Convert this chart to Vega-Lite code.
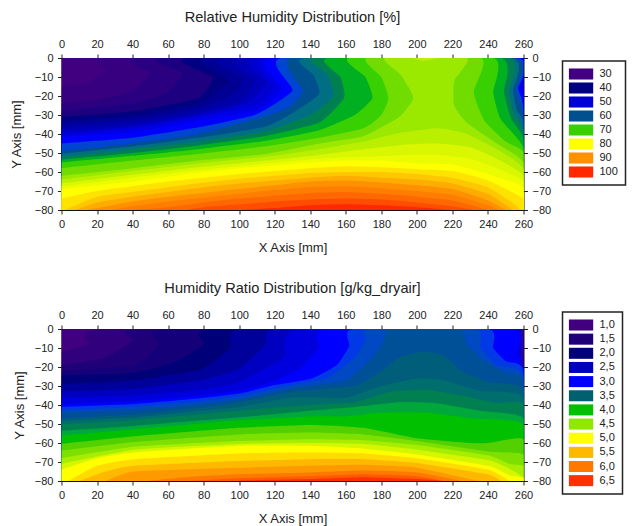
{"$schema":"https://vega.github.io/schema/vega-lite/v6.json","background":"white","padding":{"left":10.5,"top":9,"right":0,"bottom":0},"spacing":25,"align":"none","resolve":{"scale":{"fill":"independent"},"legend":{"fill":"independent"}},"config":{"view":{"stroke":null},"font":"Liberation Sans","axis":{"labelFont":"Liberation Sans","titleFont":"Liberation Sans","labelFontSize":11,"titleFontSize":13,"titleFontWeight":"normal","labelColor":"#222","titleColor":"#222","tickColor":"#222","domainColor":"#111","tickSize":4,"labelPadding":4.5,"grid":false,"labelAngle":0,"labelOverlap":false,"labelFlush":false},"title":{"font":"Liberation Sans","fontSize":14.6,"fontWeight":"normal","color":"#222"},"legend":{"labelFont":"Liberation Sans","labelFontSize":11,"labelColor":"#222","strokeWidth":1.5}},"vconcat":[{"title":{"text":"Relative Humidity Distribution [%]","offset":14,"anchor":"middle"},"width":462,"height":152,"layer":[{"data":{"values":[
{"l":30,"x":0,"y":-80},{"l":30,"x":0,"y":0},{"l":30,"x":260,"y":0},{"l":30,"x":260,"y":-80},
{"l":32.5,"x":0,"y":-15},{"l":32.5,"x":15,"y":-13},{"l":32.5,"x":25,"y":-6},{"l":32.5,"x":30,"y":0},{"l":32.5,"x":260,"y":0},{"l":32.5,"x":260,"y":-80},{"l":32.5,"x":0,"y":-80},
{"l":35,"x":0,"y":-24},{"l":35,"x":20,"y":-22},{"l":35,"x":38,"y":-18},{"l":35,"x":50,"y":-8},{"l":35,"x":45,"y":0},{"l":35,"x":260,"y":0},{"l":35,"x":260,"y":-80},{"l":35,"x":0,"y":-80},
{"l":37.5,"x":0,"y":-28},{"l":37.5,"x":40,"y":-24},{"l":37.5,"x":60,"y":-18},{"l":37.5,"x":68,"y":-8},{"l":37.5,"x":58,"y":0},{"l":37.5,"x":260,"y":0},{"l":37.5,"x":260,"y":-80},{"l":37.5,"x":0,"y":-80},
{"l":40,"x":0,"y":-31},{"l":40,"x":40,"y":-28},{"l":40,"x":77,"y":-21},{"l":40,"x":85,"y":-10},{"l":40,"x":72,"y":0},{"l":40,"x":260,"y":0},{"l":40,"x":260,"y":-80},{"l":40,"x":0,"y":-80},
{"l":42.5,"x":0,"y":-33},{"l":42.5,"x":40,"y":-30.5},{"l":42.5,"x":77,"y":-24},{"l":42.5,"x":94,"y":-12},{"l":42.5,"x":83,"y":0},{"l":42.5,"x":260,"y":0},{"l":42.5,"x":260,"y":-80},{"l":42.5,"x":0,"y":-80},
{"l":45,"x":0,"y":-35},{"l":45,"x":40,"y":-32.5},{"l":45,"x":77,"y":-26.5},{"l":45,"x":95,"y":-20},{"l":45,"x":102,"y":-11},{"l":45,"x":92,"y":0},{"l":45,"x":260,"y":0},{"l":45,"x":260,"y":-80},{"l":45,"x":0,"y":-80},
{"l":47.5,"x":0,"y":-37},{"l":47.5,"x":40,"y":-34.5},{"l":47.5,"x":77,"y":-28.5},{"l":47.5,"x":100,"y":-23},{"l":47.5,"x":109,"y":-12},{"l":47.5,"x":102,"y":0},{"l":47.5,"x":260,"y":0},{"l":47.5,"x":260,"y":-80},{"l":47.5,"x":0,"y":-80},
{"l":50,"x":0,"y":-39},{"l":50,"x":40,"y":-36},{"l":50,"x":77,"y":-30},{"l":50,"x":105,"y":-23},{"l":50,"x":115,"y":-13},{"l":50,"x":110,"y":0},{"l":50,"x":260,"y":0},{"l":50,"x":260,"y":-80},{"l":50,"x":0,"y":-80},
{"l":52.5,"x":0,"y":-40.5},{"l":52.5,"x":40,"y":-37},{"l":52.5,"x":77,"y":-31},{"l":52.5,"x":110,"y":-24.5},{"l":52.5,"x":120,"y":-15},{"l":52.5,"x":115,"y":0},{"l":52.5,"x":258,"y":0},{"l":52.5,"x":260,"y":-10},{"l":52.5,"x":260,"y":-80},{"l":52.5,"x":0,"y":-80},
{"l":55,"x":0,"y":-41.5},{"l":55,"x":40,"y":-39},{"l":55,"x":77,"y":-33},{"l":55,"x":110,"y":-27.5},{"l":55,"x":124,"y":-16},{"l":55,"x":118,"y":0},{"l":55,"x":257,"y":0},{"l":55,"x":258,"y":-15},{"l":55,"x":260,"y":-24},{"l":55,"x":260,"y":-80},{"l":55,"x":0,"y":-80},
{"l":57.5,"x":0,"y":-45},{"l":57.5,"x":40,"y":-42},{"l":57.5,"x":77,"y":-36.5},{"l":57.5,"x":110,"y":-29.5},{"l":57.5,"x":130,"y":-17},{"l":57.5,"x":124,"y":0},{"l":57.5,"x":256,"y":0},{"l":57.5,"x":257,"y":-16},{"l":57.5,"x":260,"y":-27},{"l":57.5,"x":260,"y":-80},{"l":57.5,"x":0,"y":-80},
{"l":60,"x":0,"y":-49},{"l":60,"x":40,"y":-45},{"l":60,"x":77,"y":-40},{"l":60,"x":110,"y":-32},{"l":60,"x":128,"y":-26},{"l":60,"x":136,"y":-17},{"l":60,"x":130,"y":0},{"l":60,"x":255,"y":0},{"l":60,"x":256,"y":-17},{"l":60,"x":260,"y":-31},{"l":60,"x":260,"y":-80},{"l":60,"x":0,"y":-80},
{"l":62.5,"x":0,"y":-50.5},{"l":62.5,"x":40,"y":-46.5},{"l":62.5,"x":77,"y":-42},{"l":62.5,"x":115,"y":-36},{"l":62.5,"x":130,"y":-29},{"l":62.5,"x":145,"y":-19},{"l":62.5,"x":142,"y":-9},{"l":62.5,"x":137,"y":0},{"l":62.5,"x":253,"y":0},{"l":62.5,"x":254,"y":-17},{"l":62.5,"x":256,"y":-27},{"l":62.5,"x":260,"y":-35},{"l":62.5,"x":260,"y":-80},{"l":62.5,"x":0,"y":-80},
{"l":65,"x":0,"y":-52},{"l":65,"x":40,"y":-48},{"l":65,"x":77,"y":-44},{"l":65,"x":115,"y":-38.5},{"l":65,"x":140,"y":-30},{"l":65,"x":153,"y":-20},{"l":65,"x":150,"y":-9},{"l":65,"x":143,"y":0},{"l":65,"x":251,"y":0},{"l":65,"x":252,"y":-18},{"l":65,"x":255,"y":-30},{"l":65,"x":260,"y":-39},{"l":65,"x":260,"y":-80},{"l":65,"x":0,"y":-80},
{"l":67.5,"x":0,"y":-53.5},{"l":67.5,"x":40,"y":-50},{"l":67.5,"x":77,"y":-46},{"l":67.5,"x":115,"y":-41},{"l":67.5,"x":145,"y":-34},{"l":67.5,"x":159,"y":-21},{"l":67.5,"x":157,"y":-10},{"l":67.5,"x":150,"y":0},{"l":67.5,"x":247,"y":0},{"l":67.5,"x":249,"y":-18},{"l":67.5,"x":253,"y":-32},{"l":67.5,"x":260,"y":-43},{"l":67.5,"x":260,"y":-80},{"l":67.5,"x":0,"y":-80},
{"l":70,"x":0,"y":-55},{"l":70,"x":40,"y":-51.5},{"l":70,"x":77,"y":-48},{"l":70,"x":115,"y":-43.5},{"l":70,"x":145,"y":-38},{"l":70,"x":165,"y":-30},{"l":70,"x":175,"y":-21},{"l":70,"x":171,"y":-10},{"l":70,"x":162,"y":0},{"l":70,"x":243,"y":0},{"l":70,"x":243,"y":-18},{"l":70,"x":247,"y":-32},{"l":70,"x":260,"y":-47.5},{"l":70,"x":260,"y":-80},{"l":70,"x":0,"y":-80},
{"l":72.5,"x":0,"y":-58},{"l":72.5,"x":40,"y":-54},{"l":72.5,"x":77,"y":-50.5},{"l":72.5,"x":115,"y":-46.5},{"l":72.5,"x":145,"y":-42},{"l":72.5,"x":170,"y":-37},{"l":72.5,"x":180,"y":-30},{"l":72.5,"x":184,"y":-21},{"l":72.5,"x":180,"y":-10},{"l":72.5,"x":172,"y":0},{"l":72.5,"x":236,"y":0},{"l":72.5,"x":232,"y":-18},{"l":72.5,"x":238,"y":-33},{"l":72.5,"x":250,"y":-44},{"l":72.5,"x":260,"y":-50},{"l":72.5,"x":260,"y":-80},{"l":72.5,"x":0,"y":-80},
{"l":75,"x":0,"y":-62},{"l":75,"x":40,"y":-58},{"l":75,"x":77,"y":-54},{"l":75,"x":115,"y":-50.5},{"l":75,"x":145,"y":-45},{"l":75,"x":170,"y":-41},{"l":75,"x":190,"y":-31},{"l":75,"x":198,"y":-21},{"l":75,"x":191,"y":-9},{"l":75,"x":182,"y":0},{"l":75,"x":228,"y":0},{"l":75,"x":221,"y":-12},{"l":75,"x":221,"y":-25},{"l":75,"x":228,"y":-34},{"l":75,"x":245,"y":-45},{"l":75,"x":260,"y":-55},{"l":75,"x":260,"y":-80},{"l":75,"x":0,"y":-80},
{"l":76.6,"x":198,"y":0},{"l":76.6,"x":204,"y":-1.5},{"l":76.6,"x":212,"y":0},
{"l":76.5,"x":0,"y":-64},{"l":76.5,"x":40,"y":-59.5},{"l":76.5,"x":77,"y":-55.5},{"l":76.5,"x":115,"y":-52},{"l":76.5,"x":145,"y":-48},{"l":76.5,"x":170,"y":-44},{"l":76.5,"x":190,"y":-39.5},{"l":76.5,"x":212,"y":-37},{"l":76.5,"x":228,"y":-40},{"l":76.5,"x":245,"y":-48},{"l":76.5,"x":260,"y":-58},{"l":76.5,"x":260,"y":-80},{"l":76.5,"x":0,"y":-80},
{"l":78,"x":0,"y":-66},{"l":78,"x":40,"y":-61.5},{"l":78,"x":77,"y":-57.5},{"l":78,"x":115,"y":-54},{"l":78,"x":145,"y":-51},{"l":78,"x":170,"y":-48},{"l":78,"x":195,"y":-45.5},{"l":78,"x":212,"y":-45},{"l":78,"x":230,"y":-47},{"l":78,"x":245,"y":-53},{"l":78,"x":260,"y":-62},{"l":78,"x":260,"y":-80},{"l":78,"x":0,"y":-80},
{"l":79,"x":0,"y":-67.5},{"l":79,"x":40,"y":-63},{"l":79,"x":77,"y":-59},{"l":79,"x":115,"y":-55.5},{"l":79,"x":145,"y":-53},{"l":79,"x":170,"y":-52},{"l":79,"x":195,"y":-51},{"l":79,"x":212,"y":-51},{"l":79,"x":230,"y":-53},{"l":79,"x":245,"y":-58},{"l":79,"x":260,"y":-65},{"l":79,"x":260,"y":-80},{"l":79,"x":0,"y":-80},
{"l":80,"x":0,"y":-69},{"l":80,"x":20,"y":-67},{"l":80,"x":40,"y":-65},{"l":80,"x":60,"y":-62.5},{"l":80,"x":80,"y":-60},{"l":80,"x":100,"y":-58},{"l":80,"x":120,"y":-56.5},{"l":80,"x":140,"y":-55},{"l":80,"x":160,"y":-54},{"l":80,"x":180,"y":-54},{"l":80,"x":200,"y":-55.5},{"l":80,"x":220,"y":-56},{"l":80,"x":240,"y":-61},{"l":80,"x":260,"y":-68},{"l":80,"x":260,"y":-80},{"l":80,"x":0,"y":-80},
{"l":82.5,"x":0,"y":-74},{"l":82.5,"x":20,"y":-70},{"l":82.5,"x":40,"y":-67.5},{"l":82.5,"x":60,"y":-65},{"l":82.5,"x":80,"y":-63},{"l":82.5,"x":100,"y":-61},{"l":82.5,"x":120,"y":-59.5},{"l":82.5,"x":140,"y":-58},{"l":82.5,"x":160,"y":-57},{"l":82.5,"x":180,"y":-57.5},{"l":82.5,"x":200,"y":-58.5},{"l":82.5,"x":220,"y":-59.5},{"l":82.5,"x":240,"y":-64.5},{"l":82.5,"x":260,"y":-74},{"l":82.5,"x":260,"y":-80},{"l":82.5,"x":0,"y":-80},
{"l":85,"x":2,"y":-80},{"l":85,"x":20,"y":-73},{"l":85,"x":40,"y":-70.5},{"l":85,"x":60,"y":-68},{"l":85,"x":80,"y":-65.5},{"l":85,"x":100,"y":-63.5},{"l":85,"x":120,"y":-62},{"l":85,"x":140,"y":-60.5},{"l":85,"x":160,"y":-60},{"l":85,"x":180,"y":-60},{"l":85,"x":200,"y":-61},{"l":85,"x":220,"y":-63},{"l":85,"x":240,"y":-68},{"l":85,"x":255,"y":-77},{"l":85,"x":258,"y":-80},
{"l":87.5,"x":8,"y":-80},{"l":87.5,"x":20,"y":-76},{"l":87.5,"x":40,"y":-73},{"l":87.5,"x":60,"y":-70.5},{"l":87.5,"x":80,"y":-68},{"l":87.5,"x":100,"y":-66},{"l":87.5,"x":120,"y":-64.5},{"l":87.5,"x":140,"y":-63},{"l":87.5,"x":160,"y":-62},{"l":87.5,"x":180,"y":-63},{"l":87.5,"x":200,"y":-64},{"l":87.5,"x":220,"y":-66},{"l":87.5,"x":240,"y":-71.5},{"l":87.5,"x":254,"y":-80},
{"l":90,"x":15,"y":-80},{"l":90,"x":20,"y":-79},{"l":90,"x":40,"y":-75.5},{"l":90,"x":60,"y":-73},{"l":90,"x":80,"y":-71},{"l":90,"x":100,"y":-69},{"l":90,"x":120,"y":-67},{"l":90,"x":140,"y":-65},{"l":90,"x":160,"y":-64.5},{"l":90,"x":180,"y":-65.5},{"l":90,"x":200,"y":-67},{"l":90,"x":220,"y":-69},{"l":90,"x":240,"y":-75},{"l":90,"x":250,"y":-80},
{"l":92.5,"x":28,"y":-80},{"l":92.5,"x":40,"y":-78},{"l":92.5,"x":60,"y":-75.5},{"l":92.5,"x":80,"y":-73.5},{"l":92.5,"x":100,"y":-71.5},{"l":92.5,"x":120,"y":-69.5},{"l":92.5,"x":140,"y":-68},{"l":92.5,"x":160,"y":-67.5},{"l":92.5,"x":180,"y":-68.5},{"l":92.5,"x":200,"y":-70},{"l":92.5,"x":220,"y":-72},{"l":92.5,"x":240,"y":-77.5},{"l":92.5,"x":246,"y":-80},
{"l":95,"x":40,"y":-80},{"l":95,"x":60,"y":-78.5},{"l":95,"x":80,"y":-76},{"l":95,"x":100,"y":-74},{"l":95,"x":120,"y":-72.5},{"l":95,"x":140,"y":-71},{"l":95,"x":160,"y":-70.5},{"l":95,"x":180,"y":-71.5},{"l":95,"x":200,"y":-73},{"l":95,"x":220,"y":-75},{"l":95,"x":240,"y":-80},
{"l":97.5,"x":70,"y":-80},{"l":97.5,"x":80,"y":-78.5},{"l":97.5,"x":100,"y":-77},{"l":97.5,"x":120,"y":-75.5},{"l":97.5,"x":140,"y":-74.5},{"l":97.5,"x":160,"y":-74},{"l":97.5,"x":180,"y":-74.5},{"l":97.5,"x":200,"y":-76},{"l":97.5,"x":220,"y":-78},{"l":97.5,"x":232,"y":-80},
{"l":100,"x":100,"y":-80},{"l":100,"x":120,"y":-79},{"l":100,"x":140,"y":-77.5},{"l":100,"x":160,"y":-77},{"l":100,"x":180,"y":-77.5},{"l":100,"x":200,"y":-78.5},{"l":100,"x":220,"y":-80}
]},"mark":{"type":"line","filled":true,"clip":true,"strokeWidth":0,"interpolate":"cardinal","tension":0.5},"encoding":{"x":{"field":"x","type":"quantitative","scale":{"domain":[0,260],"nice":false},"axis":{"orient":"bottom","values":[0,20,40,60,80,100,120,140,160,180,200,220,240,260],"title":"X Axis [mm]","titlePadding":12}},"y":{"field":"y","type":"quantitative","scale":{"domain":[-80,0],"nice":false},"axis":{"orient":"left","values":[0,-10,-20,-30,-40,-50,-60,-70,-80],"title":"Y Axis [mm]","titlePadding":10.5}},"detail":{"field":"l"},"order":{"value":null},"fill":{"field":"l","type":"quantitative","scale":{"domain":[30,40,50,55,60,65,67.5,70,75,80,90,100],"range":["#400080","#000080","#0000d0","#0000ff","#005090","#008050","#00b020","#38d000","#9be800","#ffff00","#ff9000","#ff2800"]},"legend":{"type":"symbol","title":null,"orient":"none","legendX":501,"legendY":3,"values":[30,40,50,60,70,80,90,100],"symbolType":"M-1.1,-0.92H2.95V0.92H-1.1Z","symbolSize":144,"symbolStrokeWidth":0,"symbolOpacity":1,"labelOffset":18,"rowPadding":2,"padding":7,"strokeColor":"#222","fillColor":"white"}}}},{"data":{"values":[{"x":0,"y":-80},{"x":260,"y":0}]},"mark":{"type":"line","opacity":0},"encoding":{"x":{"field":"x","type":"quantitative","axis":{"orient":"top","values":[0,20,40,60,80,100,120,140,160,180,200,220,240,260],"title":null}},"y":{"field":"y","type":"quantitative","axis":{"orient":"right","values":[0,-10,-20,-30,-40,-50,-60,-70,-80],"title":null}}}}],"resolve":{"axis":{"x":"independent","y":"independent"}}},{"title":{"text":"Humidity Ratio Distribution [g/kg_dryair]","offset":14,"anchor":"middle"},"width":462,"height":152,"layer":[{"data":{"values":[
{"l":1,"x":0,"y":-80},{"l":1,"x":0,"y":0},{"l":1,"x":260,"y":0},{"l":1,"x":260,"y":-80},
{"l":1.25,"x":0,"y":-12},{"l":1.25,"x":15,"y":-8},{"l":1.25,"x":25,"y":0},{"l":1.25,"x":260,"y":0},{"l":1.25,"x":260,"y":-80},{"l":1.25,"x":0,"y":-80},
{"l":1.5,"x":0,"y":-19},{"l":1.5,"x":25,"y":-15},{"l":1.5,"x":40,"y":-6},{"l":1.5,"x":45,"y":0},{"l":1.5,"x":260,"y":0},{"l":1.5,"x":260,"y":-80},{"l":1.5,"x":0,"y":-80},
{"l":1.75,"x":0,"y":-22},{"l":1.75,"x":41,"y":-19},{"l":1.75,"x":55,"y":-8},{"l":1.75,"x":60,"y":0},{"l":1.75,"x":260,"y":0},{"l":1.75,"x":260,"y":-80},{"l":1.75,"x":0,"y":-80},
{"l":2,"x":0,"y":-24.5},{"l":2,"x":41,"y":-23},{"l":2,"x":65,"y":-17},{"l":2,"x":80,"y":-8},{"l":2,"x":85,"y":0},{"l":2,"x":260,"y":0},{"l":2,"x":260,"y":-80},{"l":2,"x":0,"y":-80},
{"l":2.25,"x":0,"y":-29},{"l":2.25,"x":41,"y":-27},{"l":2.25,"x":78,"y":-21.5},{"l":2.25,"x":95,"y":-10},{"l":2.25,"x":103,"y":0},{"l":2.25,"x":260,"y":0},{"l":2.25,"x":260,"y":-80},{"l":2.25,"x":0,"y":-80},
{"l":2.5,"x":0,"y":-33},{"l":2.5,"x":41,"y":-31.5},{"l":2.5,"x":78,"y":-27},{"l":2.5,"x":100,"y":-21},{"l":2.5,"x":115,"y":-8},{"l":2.5,"x":122,"y":0},{"l":2.5,"x":260,"y":0},{"l":2.5,"x":260,"y":-80},{"l":2.5,"x":0,"y":-80},
{"l":2.75,"x":0,"y":-36},{"l":2.75,"x":41,"y":-35},{"l":2.75,"x":78,"y":-32},{"l":2.75,"x":100,"y":-28},{"l":2.75,"x":125,"y":-15},{"l":2.75,"x":133,"y":0},{"l":2.75,"x":260,"y":0},{"l":2.75,"x":260,"y":-80},{"l":2.75,"x":0,"y":-80},
{"l":3,"x":0,"y":-39.5},{"l":3,"x":41,"y":-38},{"l":3,"x":78,"y":-35},{"l":3,"x":100,"y":-32.5},{"l":3,"x":120,"y":-27.5},{"l":3,"x":135,"y":-20},{"l":3,"x":145,"y":-10},{"l":3,"x":148,"y":0},{"l":3,"x":254,"y":0},{"l":3,"x":256,"y":-14},{"l":3,"x":260,"y":-20},{"l":3,"x":260,"y":-80},{"l":3,"x":0,"y":-80},
{"l":3.1,"x":0,"y":-41},{"l":3.1,"x":41,"y":-39.5},{"l":3.1,"x":78,"y":-36.5},{"l":3.1,"x":100,"y":-34},{"l":3.1,"x":120,"y":-29.5},{"l":3.1,"x":141,"y":-26},{"l":3.1,"x":155,"y":-19},{"l":3.1,"x":162,"y":-9},{"l":3.1,"x":164,"y":0},{"l":3.1,"x":240,"y":0},{"l":3.1,"x":243,"y":-10},{"l":3.1,"x":250,"y":-17},{"l":3.1,"x":260,"y":-22},{"l":3.1,"x":260,"y":-80},{"l":3.1,"x":0,"y":-80},
{"l":3.2,"x":0,"y":-42.5},{"l":3.2,"x":41,"y":-41},{"l":3.2,"x":78,"y":-38},{"l":3.2,"x":100,"y":-35.5},{"l":3.2,"x":130,"y":-29.5},{"l":3.2,"x":150,"y":-25.5},{"l":3.2,"x":165,"y":-15},{"l":3.2,"x":171,"y":-6},{"l":3.2,"x":173,"y":0},{"l":3.2,"x":233,"y":0},{"l":3.2,"x":236,"y":-10},{"l":3.2,"x":245,"y":-19},{"l":3.2,"x":260,"y":-24.5},{"l":3.2,"x":260,"y":-80},{"l":3.2,"x":0,"y":-80},
{"l":3.3,"x":0,"y":-44},{"l":3.3,"x":41,"y":-42.5},{"l":3.3,"x":78,"y":-39.5},{"l":3.3,"x":100,"y":-37},{"l":3.3,"x":130,"y":-31},{"l":3.3,"x":160,"y":-27},{"l":3.3,"x":175,"y":-15},{"l":3.3,"x":181,"y":-7},{"l":3.3,"x":185,"y":0},{"l":3.3,"x":224,"y":0},{"l":3.3,"x":228,"y":-8},{"l":3.3,"x":238,"y":-17},{"l":3.3,"x":250,"y":-23},{"l":3.3,"x":260,"y":-27},{"l":3.3,"x":260,"y":-80},{"l":3.3,"x":0,"y":-80},
{"l":3.45,"x":0,"y":-47},{"l":3.45,"x":41,"y":-45},{"l":3.45,"x":78,"y":-41.5},{"l":3.45,"x":100,"y":-38.5},{"l":3.45,"x":130,"y":-33},{"l":3.45,"x":165,"y":-30},{"l":3.45,"x":180,"y":-22},{"l":3.45,"x":190,"y":-15},{"l":3.45,"x":203,"y":-12},{"l":3.45,"x":215,"y":-14},{"l":3.45,"x":225,"y":-22},{"l":3.45,"x":240,"y":-28},{"l":3.45,"x":260,"y":-32},{"l":3.45,"x":260,"y":-80},{"l":3.45,"x":0,"y":-80},
{"l":3.6,"x":0,"y":-48.5},{"l":3.6,"x":41,"y":-46.5},{"l":3.6,"x":78,"y":-43},{"l":3.6,"x":100,"y":-41},{"l":3.6,"x":130,"y":-36},{"l":3.6,"x":160,"y":-36},{"l":3.6,"x":180,"y":-30},{"l":3.6,"x":200,"y":-26},{"l":3.6,"x":215,"y":-27},{"l":3.6,"x":235,"y":-32.5},{"l":3.6,"x":260,"y":-36},{"l":3.6,"x":260,"y":-80},{"l":3.6,"x":0,"y":-80},
{"l":3.75,"x":0,"y":-50},{"l":3.75,"x":41,"y":-48},{"l":3.75,"x":100,"y":-43},{"l":3.75,"x":140,"y":-40},{"l":3.75,"x":165,"y":-38.5},{"l":3.75,"x":185,"y":-33},{"l":3.75,"x":205,"y":-32},{"l":3.75,"x":225,"y":-35},{"l":3.75,"x":245,"y":-39},{"l":3.75,"x":260,"y":-40},{"l":3.75,"x":260,"y":-80},{"l":3.75,"x":0,"y":-80},
{"l":3.9,"x":0,"y":-53.5},{"l":3.9,"x":41,"y":-51},{"l":3.9,"x":100,"y":-46.5},{"l":3.9,"x":140,"y":-43},{"l":3.9,"x":165,"y":-41},{"l":3.9,"x":190,"y":-38.5},{"l":3.9,"x":210,"y":-39},{"l":3.9,"x":235,"y":-43},{"l":3.9,"x":260,"y":-47},{"l":3.9,"x":260,"y":-80},{"l":3.9,"x":0,"y":-80},
{"l":4,"x":0,"y":-56},{"l":4,"x":41,"y":-52.7},{"l":4,"x":100,"y":-48},{"l":4,"x":140,"y":-46},{"l":4,"x":160,"y":-46},{"l":4,"x":180,"y":-44},{"l":4,"x":205,"y":-44},{"l":4,"x":230,"y":-47},{"l":4,"x":260,"y":-50},{"l":4,"x":260,"y":-80},{"l":4,"x":0,"y":-80},
{"l":4.2,"x":0,"y":-60.5},{"l":4.2,"x":41,"y":-56.5},{"l":4.2,"x":100,"y":-52},{"l":4.2,"x":140,"y":-50.5},{"l":4.2,"x":170,"y":-52},{"l":4.2,"x":200,"y":-57.5},{"l":4.2,"x":230,"y":-60},{"l":4.2,"x":240,"y":-60},{"l":4.2,"x":260,"y":-58},{"l":4.2,"x":260,"y":-80},{"l":4.2,"x":0,"y":-80},
{"l":4.4,"x":0,"y":-64},{"l":4.4,"x":41,"y":-59.5},{"l":4.4,"x":100,"y":-55.5},{"l":4.4,"x":140,"y":-54.5},{"l":4.4,"x":170,"y":-55.5},{"l":4.4,"x":200,"y":-59},{"l":4.4,"x":240,"y":-64.5},{"l":4.4,"x":260,"y":-66},{"l":4.4,"x":260,"y":-80},{"l":4.4,"x":0,"y":-80},
{"l":4.6,"x":0,"y":-68},{"l":4.6,"x":41,"y":-62},{"l":4.6,"x":100,"y":-59},{"l":4.6,"x":140,"y":-58},{"l":4.6,"x":170,"y":-58.5},{"l":4.6,"x":200,"y":-61},{"l":4.6,"x":240,"y":-66.5},{"l":4.6,"x":252,"y":-71},{"l":4.6,"x":260,"y":-72},{"l":4.6,"x":260,"y":-80},{"l":4.6,"x":0,"y":-80},
{"l":4.8,"x":0,"y":-71},{"l":4.8,"x":41,"y":-63.5},{"l":4.8,"x":100,"y":-60.5},{"l":4.8,"x":140,"y":-60},{"l":4.8,"x":170,"y":-60.5},{"l":4.8,"x":200,"y":-63.5},{"l":4.8,"x":240,"y":-69},{"l":4.8,"x":252,"y":-73.5},{"l":4.8,"x":260,"y":-78},{"l":4.8,"x":260,"y":-80},{"l":4.8,"x":0,"y":-80},
{"l":5,"x":0,"y":-74},{"l":5,"x":20,"y":-68},{"l":5,"x":41,"y":-65},{"l":5,"x":100,"y":-61.5},{"l":5,"x":140,"y":-61.5},{"l":5,"x":170,"y":-63},{"l":5,"x":200,"y":-66},{"l":5,"x":240,"y":-72},{"l":5,"x":252,"y":-77},{"l":5,"x":257,"y":-80},{"l":5,"x":0,"y":-80},
{"l":5.25,"x":4,"y":-80},{"l":5.25,"x":20,"y":-72},{"l":5.25,"x":41,"y":-68.5},{"l":5.25,"x":100,"y":-65.5},{"l":5.25,"x":140,"y":-65},{"l":5.25,"x":170,"y":-65.5},{"l":5.25,"x":200,"y":-68},{"l":5.25,"x":240,"y":-74},{"l":5.25,"x":252,"y":-80},
{"l":5.5,"x":10,"y":-80},{"l":5.5,"x":25,"y":-75},{"l":5.5,"x":41,"y":-72},{"l":5.5,"x":100,"y":-69.5},{"l":5.5,"x":140,"y":-68.5},{"l":5.5,"x":170,"y":-68.5},{"l":5.5,"x":200,"y":-70.5},{"l":5.5,"x":240,"y":-76.5},{"l":5.5,"x":247,"y":-80},
{"l":5.75,"x":25,"y":-80},{"l":5.75,"x":41,"y":-75},{"l":5.75,"x":100,"y":-73},{"l":5.75,"x":140,"y":-72},{"l":5.75,"x":170,"y":-71.5},{"l":5.75,"x":200,"y":-73},{"l":5.75,"x":235,"y":-80},
{"l":6,"x":48,"y":-80},{"l":6,"x":70,"y":-78},{"l":6,"x":100,"y":-76.5},{"l":6,"x":140,"y":-75.5},{"l":6,"x":170,"y":-74.5},{"l":6,"x":200,"y":-75.5},{"l":6,"x":225,"y":-80},
{"l":6.25,"x":72,"y":-80},{"l":6.25,"x":100,"y":-78.5},{"l":6.25,"x":140,"y":-77.5},{"l":6.25,"x":170,"y":-76.5},{"l":6.25,"x":200,"y":-77.5},{"l":6.25,"x":215,"y":-80},
{"l":6.5,"x":100,"y":-79.7},{"l":6.5,"x":140,"y":-79},{"l":6.5,"x":170,"y":-78},{"l":6.5,"x":200,"y":-79},{"l":6.5,"x":210,"y":-80},{"l":6.5,"x":100,"y":-80},
{"l":1.01,"x":258.8,"y":0},{"l":1.01,"x":260,"y":0},{"l":1.01,"x":260,"y":-19},{"l":1.01,"x":258.8,"y":-19}
]},"mark":{"type":"line","filled":true,"clip":true,"strokeWidth":0,"interpolate":"cardinal","tension":0.5},"encoding":{"x":{"field":"x","type":"quantitative","scale":{"domain":[0,260],"nice":false},"axis":{"orient":"bottom","values":[0,20,40,60,80,100,120,140,160,180,200,220,240,260],"title":"X Axis [mm]","titlePadding":12}},"y":{"field":"y","type":"quantitative","scale":{"domain":[-80,0],"nice":false},"axis":{"orient":"left","values":[0,-10,-20,-30,-40,-50,-60,-70,-80],"title":"Y Axis [mm]","titlePadding":8}},"detail":{"field":"l"},"order":{"value":null},"fill":{"field":"l","type":"quantitative","scale":{"domain":[1,1.5,2,2.5,3,3.3,3.5,3.75,4,4.5,5,5.5,6,6.5],"range":["#400080","#200078","#000078","#0000c0","#0000ff","#005098","#006070","#008050","#00c000","#90e800","#ffff00","#ffb800","#ff7800","#ff3000"]},"legend":{"type":"symbol","title":null,"orient":"none","legendX":501,"legendY":-17,"values":[1,1.5,2,2.5,3,3.5,4,4.5,5,5.5,6,6.5],"labelExpr":"replace(format(datum.value,'.1f'),'.',',')+'\u00a0'","symbolType":"M-1.1,-0.92H2.95V0.92H-1.1Z","symbolSize":144,"symbolStrokeWidth":0,"symbolOpacity":1,"labelOffset":18,"rowPadding":2.15,"padding":7,"strokeColor":"#222","fillColor":"white"}}}},{"data":{"values":[{"x":0,"y":-80},{"x":260,"y":0}]},"mark":{"type":"line","opacity":0},"encoding":{"x":{"field":"x","type":"quantitative","axis":{"orient":"top","values":[0,20,40,60,80,100,120,140,160,180,200,220,240,260],"title":null}},"y":{"field":"y","type":"quantitative","axis":{"orient":"right","values":[0,-10,-20,-30,-40,-50,-60,-70,-80],"title":null}}}}],"resolve":{"axis":{"x":"independent","y":"independent"}}}]}
